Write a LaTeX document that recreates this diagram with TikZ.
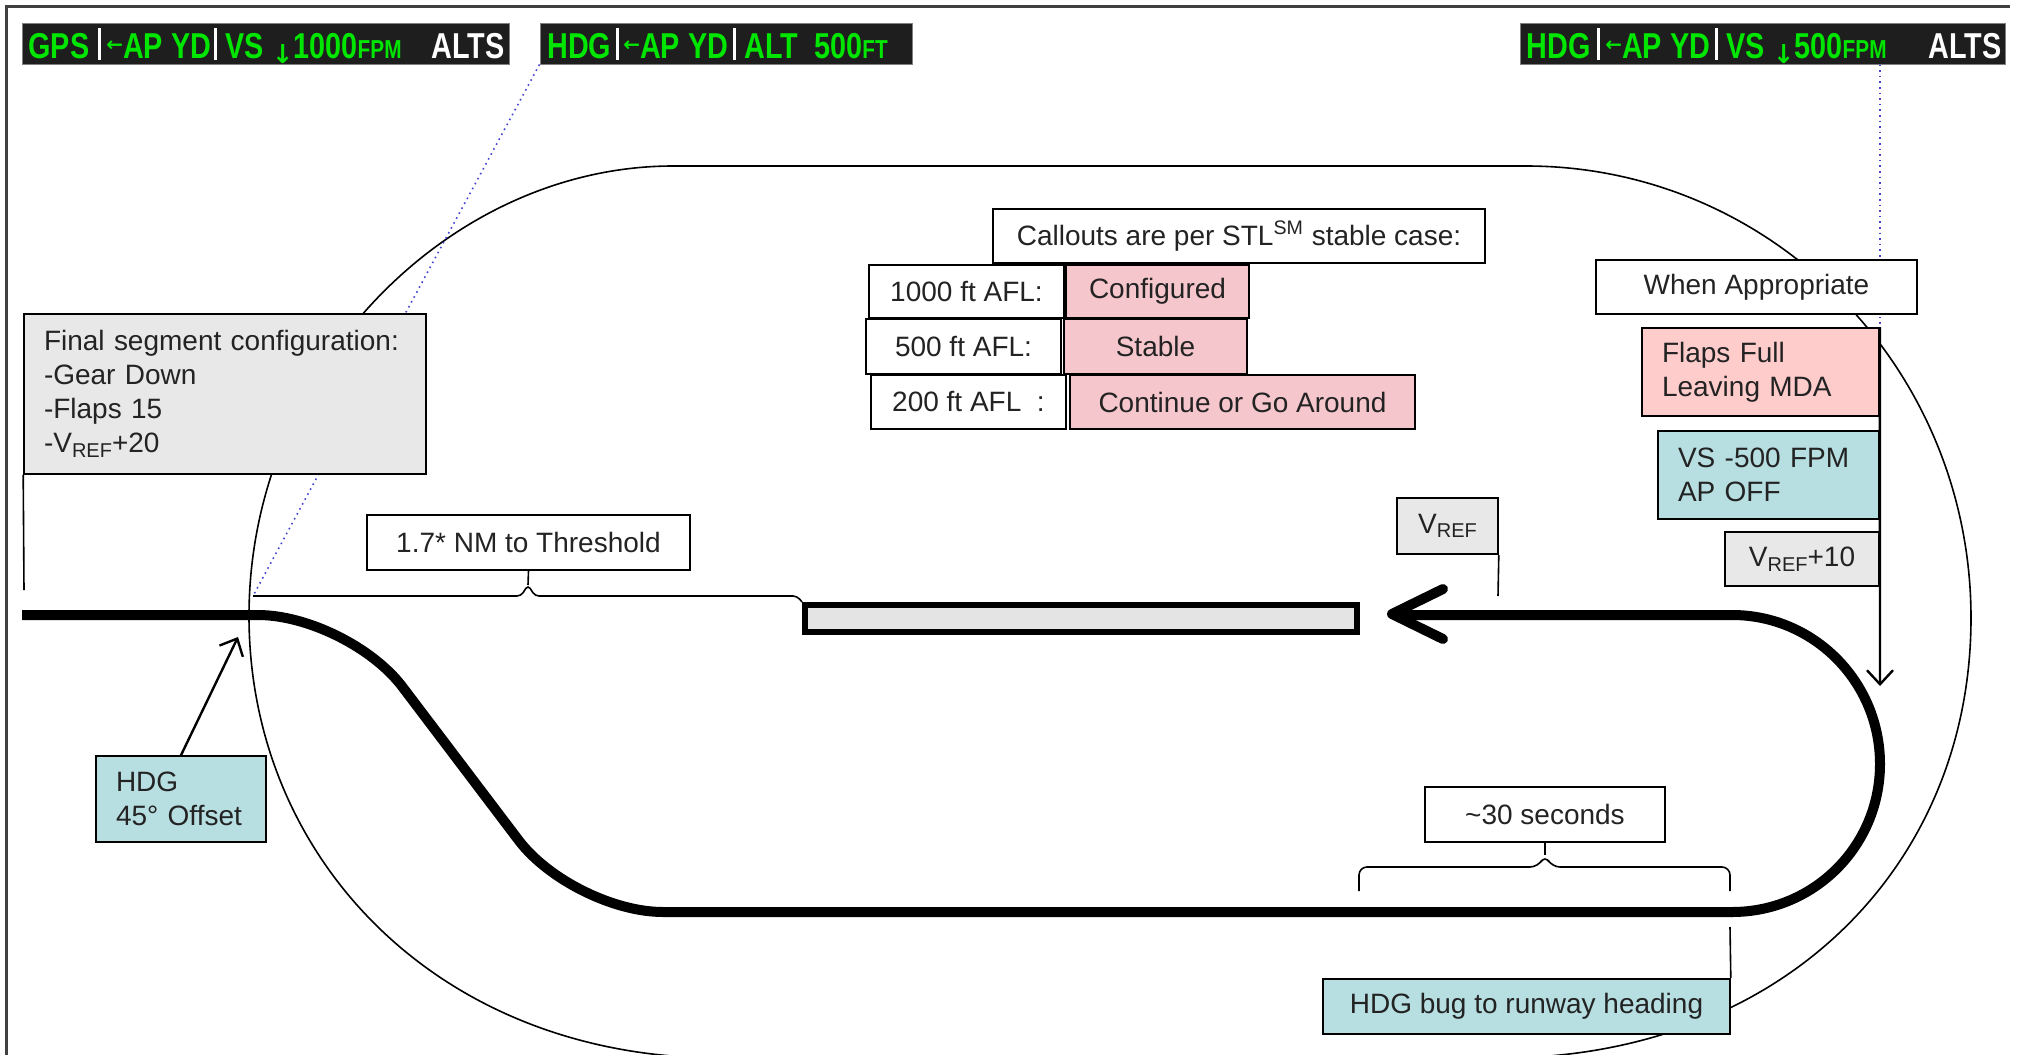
\documentclass[tikz,border=0pt]{standalone}
\usepackage{fontspec}
\setmainfont{Liberation Sans}
\newfontfamily\barfont[FakeStretch=0.8]{Liberation Sans}
\newfontfamily\arrowfont{DejaVu Sans}
\usepackage{xcolor}
\usetikzlibrary{calc}
\usetikzlibrary{arrows.meta}

\definecolor{boxteal}{RGB}{183,222,225}
\definecolor{boxpink}{RGB}{245,199,204}
\definecolor{flappink}{RGB}{255,204,204}
\definecolor{boxgray}{RGB}{232,232,232}
\definecolor{rwygray}{RGB}{228,228,228}
\definecolor{barblack}{RGB}{30,30,30}
\definecolor{pfdgreen}{RGB}{0,230,0}
\definecolor{dotblue}{RGB}{70,70,210}
\definecolor{txtgray}{RGB}{35,35,35}

\newcommand{\Vref}{V\raisebox{-0.3ex}{\fontsize{10}{10}\selectfont REF}}
\newcommand{\barsmall}{\fontsize{13}{13}\selectfont}
\newcommand{\apleft}{\raisebox{0.35ex}{\arrowfont\bfseries\fontsize{10}{10}\selectfont ←}}
\newcommand{\vsdown}{\raisebox{-0.3ex}{\arrowfont\fontsize{13}{13}\selectfont ↓}}
\newcommand{\boxfont}{\fontsize{14}{17}\selectfont}

\begin{document}
\begin{tikzpicture}[x=0.5pt, y=-0.5pt,
  bar/.style={fill=barblack, draw=black!50, line width=0.5pt, inner sep=0pt, minimum height=20.5pt},
  bartxt/.style={anchor=base west, inner sep=0pt, text=pfdgreen, font=\barfont\bfseries\fontsize{18}{18}\selectfont},
  barsep/.style={white, line width=1.5pt},
  box/.style={draw, line width=0.8pt, inner sep=0pt, text=txtgray, font=\boxfont, fill=white},
  graybox/.style={box, fill=boxgray},
  pinkbox/.style={box, fill=boxpink},
  tealbox/.style={box, fill=boxteal},
  leftbox/.style={align=left, inner xsep=10pt},
  runway/.style={draw, fill=rwygray, line width=3pt, inner sep=0pt},
  thinline/.style={line width=0.8pt},
  oval/.style={line width=0.8pt},
  dotline/.style={dotblue, dotted, line width=0.8pt},
  track/.style={line width=5pt},
  pointer/.style={line width=1.2pt, -{Straight Barb[length=7pt,width=13pt]}}
]
\useasboundingbox (0,0) rectangle (2020,1055);
\clip (0,0) rectangle (2020,1055);

\draw[line width=1.5pt, black!75] (6,1055) -- (6,6) -- (2010,6);

% mode annunciator strips
\node[bar, minimum width=243.5pt] (bar1) at (265.5,43.5) {};
\node[bartxt] at (28,58) {GPS};
\draw[barsep] (99,28) -- (99,60);
\node[bartxt] at (106,58) {\apleft AP YD};
\draw[barsep] (215,28) -- (215,60);
\node[bartxt] at (225,58) {VS \vsdown1000{\barsmall FPM}};
\node[bartxt, text=white] at (431,58) {ALTS};

\node[bar, minimum width=186pt] (bar2) at (726,43.5) {};
\node[bartxt] at (547,58) {HDG};
\draw[barsep] (617,28) -- (617,60);
\node[bartxt] at (623,58) {\apleft AP YD};
\draw[barsep] (734,28) -- (734,60);
\node[bartxt] at (744,58) {ALT\hspace{8pt}500{\barsmall FT}};

\node[bar, minimum width=242.5pt] (bar3) at (1762.5,43.5) {};
\node[bartxt] at (1526,58) {HDG};
\draw[barsep] (1598,28) -- (1598,60);
\node[bartxt] at (1605,58) {\apleft AP YD};
\draw[barsep] (1716,28) -- (1716,60);
\node[bartxt] at (1726,58) {VS \vsdown500{\barsmall FPM}};
\node[bartxt, text=white] at (1928,58) {ALTS};

% protected area outline
\draw[oval] (673,166) -- (1526,166)
  .. controls (1772,166) and (1971,368) .. (1971,618)
  .. controls (1971,868) and (1780,1058) .. (1500,1058)
  -- (720,1058)
  .. controls (440,1058) and (249,860) .. (249,616)
  .. controls (249,368) and (450,166) .. (673,166) -- cycle;

\coordinate (nmleft) at (253,596);
\draw[dotline] (bar2.south west) -- (nmleft);
\coordinate (vstop) at (1880,328);
\draw[dotline] (bar3.south -| vstop) -- (vstop);

% flight path
\draw[track, rounded corners=45pt] (22,615) -- (348,615) -- (573,912) -- (1733,912);
\draw[track] (1732,912) .. controls (1814,912) and (1880,846) .. (1880,764)
  .. controls (1880,682) and (1814,615) .. (1732,615) -- (1400,615);
\draw[track, line cap=round, line join=round] (1443,589) -- (1392,614) -- (1443,639);

\node[runway, minimum width=276pt, minimum height=13.5pt] (rwy) at (1081,618.5) {};

% brackets
\coordinate (nmtip) at (528,585);
\draw[thinline, rounded corners=2pt] (nmleft) -- (521,596) -- (nmtip) -- (535,596) -- (797,596) -- (rwy.north west);
\coordinate (thirtytip) at (1545,855);
\draw[thinline, rounded corners=4pt] (1359,891) -- (1359,867) -- (1538,867) -- (thirtytip) -- (1552,867) -- (1730,867) -- (1730,891);

% labels
\node[graybox, leftbox, text width=181pt, minimum height=80pt] (finalseg) at (225,394) {Final segment configuration:\\-Gear Down\\-Flaps 15\\-\Vref+20};
\node[tealbox, leftbox, text width=65pt, minimum height=43pt] (hdgoff) at (181,799) {HDG\\45° Offset};
\node[box, minimum width=161.5pt, minimum height=27.5pt] (nm) at (528.5,542.5) {1.7* NM to Threshold};

\node[box, minimum width=246pt, minimum height=27pt] (callouts) at (1239,236) {Callouts are per STL\textsuperscript{SM} stable case:};
\node[box, minimum width=97.5pt, minimum height=26.5pt] (afl1000) at (966.5,291.5) {1000 ft AFL:};
\node[pinkbox, minimum width=91.5pt, minimum height=26.5pt] (configured) at (1157.5,291.5) {Configured};
\node[box, minimum width=97.5pt, minimum height=27.5pt] (afl500) at (963.5,346.5) {500 ft AFL:};
\node[pinkbox, minimum width=91.5pt, minimum height=27.5pt] (stable) at (1155.5,346.5) {Stable};
\node[box, minimum width=97.5pt, minimum height=27pt] (afl200) at (968.5,402) {200 ft AFL\ \ :};
\node[pinkbox, minimum width=172.5pt, minimum height=27pt] (goaround) at (1242.5,402) {Continue or Go Around};

\node[box, minimum width=160.5pt, minimum height=27pt] (whenapp) at (1756.5,287) {When Appropriate};
\node[box, leftbox, fill=flappink, text width=98.5pt, minimum height=44pt] (flaps) at (1760.5,372) {Flaps Full\\Leaving MDA};
\node[tealbox, leftbox, text width=90.5pt, minimum height=44pt] (vsap) at (1768.5,475) {VS -500 FPM\\AP OFF};
\node[graybox, minimum width=77pt, minimum height=27pt] (vrefplus) at (1802,559) {\Vref+10};
\node[graybox, minimum width=50.5pt, minimum height=28pt] (vref) at (1447.5,526) {\Vref};
\node[box, minimum width=120pt, minimum height=27.5pt] (thirty) at (1545,814.5) {\textasciitilde30 seconds};
\node[tealbox, minimum width=203.5pt, minimum height=27.5pt] (hdgbug) at (1526.5,1006.5) {HDG bug to runway heading};

% leaders
\draw[thinline] (nmtip) -- (nm.south);
\draw[thinline] (thirtytip) -- (thirty.south);
\coordinate (finfoot) at (24,590);
\draw[thinline] (finalseg.south west) -- (finfoot);
\coordinate (vreffoot) at (1498,596);
\draw[thinline] (vref.south east) -- (vreffoot);
\coordinate (bugtop) at (1730,927);
\draw[thinline] (bugtop) -- (hdgbug.north east);
\coordinate (hdgtip) at (238,637);
\draw[pointer] (hdgoff.north) -- (hdgtip);
\coordinate (vstip) at (1880,686);
\draw[pointer] (flaps.north east) -- (vstip);

\end{tikzpicture}
\end{document}
